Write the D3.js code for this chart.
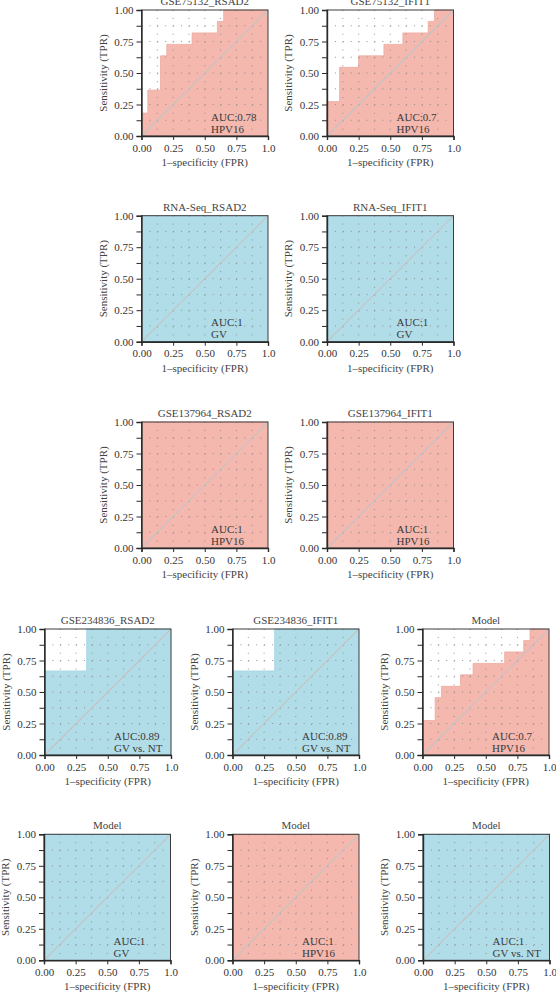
<!DOCTYPE html>
<html>
<head>
<meta charset="utf-8">
<script src="https://cdn.jsdelivr.net/npm/d3@7"></script>
<style>
  body { margin: 0; background: #fff; }
  text { font-family: "Liberation Serif", "Times New Roman", serif; }
</style>
</head>
<body>
<svg width="556" height="997"></svg>
<script>
// ---- data ----
const panelTitles = ['GSE75132_RSAD2', 'GSE75132_IFIT1', 'RNA-Seq_RSAD2', 'RNA-Seq_IFIT1',
  'GSE137964_RSAD2', 'GSE137964_IFIT1', 'GSE234836_RSAD2', 'GSE234836_IFIT1',
  'Model', 'Model', 'Model', 'Model'];
const aucLabels = ['0.78', '0.7', '1', '1', '1', '1', '0.89', '0.89', '0.7', '1', '1', '1'];
const groupLabels = ['HPV16', 'HPV16', 'GV', 'GV', 'HPV16', 'HPV16', 'GV vs. NT', 'GV vs. NT',
  'HPV16', 'GV', 'HPV16', 'GV vs. NT'];

// ROC corner points (step: up first, then right)
const fprRsad2_75132 = [0, 0.05, 0.15, 0.2, 0.4, 0.6, 0.65, 1];
const tprRsad2_75132 = [0, 0.182, 0.364, 0.636, 0.727, 0.818, 0.909, 1];
const fprIfit1_75132 = [0, 0.1, 0.25, 0.45, 0.6, 0.8, 0.85, 1];
const tprIfit1_75132 = [0, 0.273, 0.545, 0.636, 0.727, 0.818, 0.909, 1];
const fprPerfect = [0, 1];
const tprPerfect = [0, 1];
const fpr234836 = [0, 0.333, 1];
const tpr234836 = [0, 0.667, 1];
const fprModelHpv = [0, 0.1, 0.15, 0.3, 0.4, 0.65, 0.8, 0.85, 1];
const tprModelHpv = [0, 0.273, 0.455, 0.545, 0.636, 0.727, 0.818, 0.909, 1];

const panelFpr = [fprRsad2_75132, fprIfit1_75132, fprPerfect, fprPerfect, fprPerfect, fprPerfect,
  fpr234836, fpr234836, fprModelHpv, fprPerfect, fprPerfect, fprPerfect];
const panelTpr = [tprRsad2_75132, tprIfit1_75132, tprPerfect, tprPerfect, tprPerfect, tprPerfect,
  tpr234836, tpr234836, tprModelHpv, tprPerfect, tprPerfect, tprPerfect];

const yTicks = [0, 0.25, 0.5, 0.75, 1];
const yTickLabels = ['0.00', '0.25', '0.50', '0.75', '1.00'];
const xTicks = [0, 0.25, 0.5, 0.75, 1];
const xTickLabels = ['0.00', '0.25', '0.50', '0.75', '1.0'];

// ---- layout ----
const svg = d3.select('svg');
const pw = 126.5, ph = 126;
const fs = '11px';
const origins = [
  [141.5, 10], [327, 10],
  [141.5, 215.7], [327, 215.7],
  [141.5, 422], [327, 422],
  [44.5, 629], [232.5, 629], [422.5, 629],
  [44, 834.3], [232.5, 834.3], [423, 834.3]
];
const fillFor = g => g === 'HPV16' ? '#F4B8AF' : '#B1DDE9';
const edgeFor = g => g === 'HPV16' ? '#EFA99F' : '#A5D6E3';

const x = d3.scaleLinear().domain([0, 1]).range([0, pw]);
const y = d3.scaleLinear().domain([0, 1]).range([ph, 0]);

const area = d3.area()
  .curve(d3.curveStepBefore)
  .x(d => x(d[0]))
  .y0(y(0))
  .y1(d => y(d[1]));
const line = d3.line()
  .curve(d3.curveStepBefore)
  .x(d => x(d[0]))
  .y(d => y(d[1]));

const gridVals = d3.range(1, 8).map(i => i / 8);

panelTitles.forEach((title, i) => {
  const g = svg.append('g')
    .attr('transform', `translate(${origins[i][0]},${origins[i][1]})`);
  const pts = panelFpr[i].map((f, k) => [f, panelTpr[i][k]]);
  const grp = groupLabels[i];

  // filled area under ROC
  g.append('path').datum(pts)
    .attr('d', area)
    .attr('fill', fillFor(grp));
  g.append('path').datum(pts)
    .attr('d', line)
    .attr('fill', 'none')
    .attr('stroke', edgeFor(grp))
    .attr('stroke-width', 0.8);

  // dotted grid
  const dash = `1,${(pw / 16 - 1).toFixed(2)}`;
  g.selectAll('.gv').data(gridVals).enter().append('line')
    .attr('x1', d => x(d)).attr('x2', d => x(d))
    .attr('y1', 0).attr('y2', ph)
    .attr('stroke', '#8a8a8a').attr('stroke-width', 0.9)
    .attr('stroke-dasharray', dash);
  g.selectAll('.gh').data(gridVals).enter().append('line')
    .attr('x1', 0).attr('x2', pw)
    .attr('y1', d => y(d)).attr('y2', d => y(d))
    .attr('stroke', '#8a8a8a').attr('stroke-width', 0.9)
    .attr('stroke-dasharray', dash);

  // diagonal reference
  g.append('line')
    .attr('x1', x(0)).attr('y1', y(0))
    .attr('x2', x(1)).attr('y2', y(1))
    .attr('stroke', '#c4c4c4').attr('stroke-width', 1.1);

  // frame
  g.append('rect')
    .attr('width', pw).attr('height', ph)
    .attr('fill', 'none').attr('stroke', '#3c3c3c').attr('stroke-width', 1);

  // axes
  const yAxis = d3.axisLeft(y)
    .tickValues(d3.range(0, 9).map(k => k / 8))
    .tickSize(5)
    .tickPadding(3)
    .tickFormat(d => {
      const j = yTicks.indexOf(d);
      return j >= 0 ? yTickLabels[j] : '';
    });
  const ya = g.append('g').call(yAxis);
  const xAxis = d3.axisBottom(x)
    .tickValues(xTicks)
    .tickSize(4)
    .tickPadding(4)
    .tickFormat((d, j) => xTickLabels[j]);
  const xa = g.append('g').attr('transform', `translate(0,${ph})`).call(xAxis);
  [ya, xa].forEach(a => {
    a.select('.domain').attr('stroke', '#2a2a2a').attr('stroke-width', 1.4);
    a.selectAll('.tick line').attr('stroke', '#2a2a2a').attr('stroke-width', 1);
    a.selectAll('.tick text')
      .attr('fill', '#333')
      .style('font-family', '"Liberation Serif", "Times New Roman", serif')
      .style('font-size', fs);
  });

  // title
  g.append('text')
    .attr('x', pw / 2).attr('y', -5)
    .attr('text-anchor', 'middle')
    .attr('fill', '#444')
    .style('font-size', fs)
    .text(title);

  // axis titles
  g.append('text')
    .attr('transform', `translate(-35,${ph / 2}) rotate(-90)`)
    .attr('text-anchor', 'middle')
    .attr('fill', '#444')
    .style('font-size', fs)
    .text('Sensitivity (TPR)');
  g.append('text')
    .attr('x', pw / 2).attr('y', ph + 30)
    .attr('text-anchor', 'middle')
    .attr('fill', '#444')
    .style('font-size', fs)
    .text('1\u2013specificity (FPR)');

  // annotation
  g.append('text')
    .attr('x', x(0.55)).attr('y', ph - 15.5)
    .attr('fill', '#3a3a3a')
    .style('font-size', fs)
    .text('AUC:' + aucLabels[i]);
  g.append('text')
    .attr('x', x(0.55)).attr('y', ph - 3.5)
    .attr('fill', '#3a3a3a')
    .style('font-size', fs)
    .text(grp);
});
</script>
</body>
</html>
